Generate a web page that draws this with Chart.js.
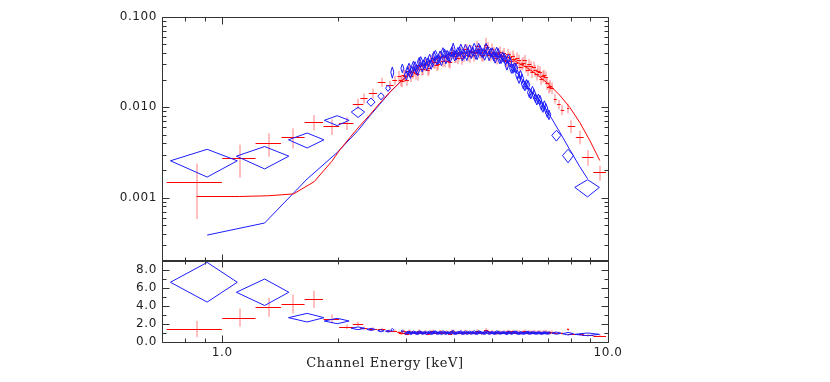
<!DOCTYPE html>
<html>
<head>
<meta charset="utf-8">
<script src="https://cdn.jsdelivr.net/npm/chart.js@4.4.1/dist/chart.umd.min.js"></script>
<style>
  body { margin: 0; background: #fff; }
  #wrap { position: relative; width: 830px; height: 382px; }
  #wrap canvas { position: absolute; left: 0; top: 0; }
</style>
</head>
<body>
<div id="wrap">
  <canvas id="spec" width="830" height="273"></canvas>
  <canvas id="ratio" width="830" height="382"></canvas>
</div>
<script>
// axis ticks
const xTicks = [1, 10];
const xLabels = ['1.0', '10.0'];
const ySpecTicks = [0.001, 0.01, 0.1];
const ySpecLabels = ['0.001', '0.010', '0.100'];
const yRatioTicks = [0, 2, 4, 6, 8];
const yRatioLabels = ['0.0', '2.0', '4.0', '6.0', '8.0'];

// red spectrum: channel energy (keV), half bin width, rate, error, ratio to model
const redE = [0.858, 1.11, 1.32, 1.53, 1.73, 1.92, 2.10, 2.25, 2.33, 2.46, 2.59, 2.72, 2.80,
  2.88, 2.905, 2.93, 2.955, 2.98,
  3.01, 3.04, 3.065, 3.09, 3.12, 3.15, 3.18, 3.21, 3.235,
  3.26, 3.29, 3.32, 3.35, 3.38, 3.41, 3.44, 3.475,
  3.51, 3.54, 3.57, 3.60, 3.63, 3.665, 3.70, 3.735,
  3.77, 3.80, 3.83, 3.865, 3.90, 3.935, 3.97,
  4.005, 4.04, 4.08, 4.12, 4.155, 4.19, 4.23,
  4.27, 4.305, 4.34, 4.38, 4.42, 4.46,
  4.50, 4.54, 4.58, 4.62, 4.66, 4.705,
  4.75, 4.79, 4.83, 4.875, 4.92, 4.965,
  5.01, 5.055, 5.10, 5.145, 5.19, 5.235,
  5.28, 5.33, 5.38, 5.425, 5.47,
  5.52, 5.57, 5.62, 5.67, 5.72,
  5.77, 5.825, 5.88, 5.93, 5.98,
  6.035, 6.09, 6.145, 6.20,
  6.255, 6.31, 6.37, 6.43, 6.485,
  6.54, 6.60, 6.66, 6.72,
  6.78, 6.84, 6.90, 6.965,
  7.03, 7.09, 7.15,
  7.30, 7.46, 7.62, 7.88, 8.04, 8.45, 8.87, 9.52];
const redDE = [0.14, 0.11, 0.10, 0.105, 0.095, 0.09, 0.09, 0.07, 0.05, 0.06, 0.06, 0.06, 0.04,
  0.035, 0.035, 0.035, 0.035, 0.035,
  0.038, 0.038, 0.038, 0.038, 0.038, 0.038, 0.038, 0.038, 0.038,
  0.041, 0.041, 0.041, 0.041, 0.041, 0.041, 0.041, 0.041,
  0.044, 0.044, 0.044, 0.044, 0.044, 0.044, 0.044, 0.044,
  0.047, 0.047, 0.047, 0.047, 0.047, 0.047, 0.047,
  0.050, 0.050, 0.050, 0.050, 0.050, 0.050, 0.050,
  0.053, 0.053, 0.053, 0.053, 0.053, 0.053,
  0.056, 0.056, 0.056, 0.056, 0.056, 0.056,
  0.059, 0.059, 0.059, 0.059, 0.059, 0.059,
  0.062, 0.062, 0.062, 0.062, 0.062, 0.062,
  0.065, 0.065, 0.065, 0.065, 0.065,
  0.068, 0.068, 0.068, 0.068, 0.068,
  0.071, 0.071, 0.071, 0.071, 0.071,
  0.074, 0.074, 0.074, 0.074,
  0.077, 0.077, 0.077, 0.077, 0.077,
  0.080, 0.080, 0.080, 0.080,
  0.083, 0.083, 0.083, 0.083,
  0.086, 0.086, 0.086,
  0.07, 0.08, 0.08, 0.05, 0.18, 0.20, 0.30, 0.36];
const redY = [0.00148, 0.00276, 0.0040, 0.00468, 0.00687, 0.00615, 0.0067, 0.0110, 0.0126, 0.0143, 0.0190, 0.0176, 0.0200,
  0.0221, 0.0200, 0.0197, 0.0230, 0.0222,
  0.0203, 0.0255, 0.0255, 0.0224, 0.0244, 0.0258, 0.0238, 0.0232, 0.0296,
  0.0293, 0.0263, 0.0268, 0.0295, 0.0303, 0.0261, 0.0271, 0.0327,
  0.0351, 0.0316, 0.0314, 0.0296, 0.0303, 0.0363, 0.0362, 0.0329,
  0.0326, 0.0365, 0.0365, 0.0324, 0.0317, 0.0409, 0.0402,
  0.0366, 0.0366, 0.0354, 0.0387, 0.0409, 0.0348, 0.0373,
  0.0438, 0.0437, 0.0380, 0.0366, 0.0424, 0.0414,
  0.0376, 0.0397, 0.0474, 0.0443, 0.0408, 0.0380,
  0.0376, 0.0431, 0.0490, 0.0461, 0.0384, 0.0382,
  0.0444, 0.0405, 0.0371, 0.0351, 0.0397, 0.0411,
  0.0368, 0.0370, 0.0396, 0.0337, 0.0322,
  0.0385, 0.0358, 0.0325, 0.0372, 0.0339,
  0.0306, 0.0353, 0.0332, 0.0282, 0.0301,
  0.0313, 0.0331, 0.0286, 0.0261,
  0.0299, 0.0284, 0.0248, 0.0280, 0.0256,
  0.0233, 0.0254, 0.0248, 0.0208,
  0.0221, 0.0227, 0.0217, 0.0184,
  0.0167, 0.0174, 0.0164,
  0.0125, 0.0108, 0.0094, 0.0098, 0.0062, 0.0047, 0.0028, 0.0019];
const redDY = [0.0009, 0.0011, 0.00116, 0.00117, 0.0013, 0.0012, 0.0011, 0.0015, 0.0016, 0.0018, 0.0022, 0.0020, 0.0022,
  0.0033, 0.0030, 0.0030, 0.0035, 0.0033,
  0.0030, 0.0038, 0.0038, 0.0034, 0.0037, 0.0039, 0.0036, 0.0035, 0.0044,
  0.0044, 0.0039, 0.0040, 0.0044, 0.0045, 0.0039, 0.0041, 0.0049,
  0.0053, 0.0047, 0.0047, 0.0044, 0.0045, 0.0054, 0.0054, 0.0049,
  0.0049, 0.0055, 0.0055, 0.0049, 0.0048, 0.0061, 0.0060,
  0.0055, 0.0055, 0.0053, 0.0058, 0.0061, 0.0052, 0.0056,
  0.0066, 0.0066, 0.0057, 0.0055, 0.0064, 0.0062,
  0.0056, 0.0060, 0.0071, 0.0066, 0.0061, 0.0057,
  0.0056, 0.0065, 0.0095, 0.0069, 0.0058, 0.0057,
  0.0067, 0.0061, 0.0056, 0.0053, 0.0060, 0.0062,
  0.0055, 0.0056, 0.0059, 0.0051, 0.0048,
  0.0058, 0.0054, 0.0049, 0.0056, 0.0051,
  0.0046, 0.0053, 0.0050, 0.0042, 0.0045,
  0.0047, 0.0050, 0.0043, 0.0039,
  0.0045, 0.0043, 0.0037, 0.0042, 0.0038,
  0.0035, 0.0038, 0.0037, 0.0031,
  0.0033, 0.0034, 0.0033, 0.0028,
  0.0025, 0.0026, 0.0025,
  0.0015, 0.0013, 0.0012, 0.0012, 0.0010, 0.0008, 0.00055, 0.00036];
const redRatio = [1.44, 2.70, 3.85, 4.22, 4.74, 2.56, 1.70, 2.00, 1.52, 1.44, 1.40, 1.20, 1.25,
  1.10, 0.95, 0.98, 1.18, 1.05,
  0.92, 1.20, 1.15, 1.00, 1.06, 1.08, 0.97, 0.95, 1.22,
  1.12, 1.01, 1.02, 1.10, 1.09, 0.93, 0.97, 1.15,
  1.18, 1.04, 1.04, 0.98, 0.99, 1.16, 1.12, 1.01,
  1.01, 1.10, 1.08, 0.96, 0.94, 1.20, 1.14,
  1.03, 1.03, 0.97, 1.06, 1.12, 0.96, 1.02,
  1.16, 1.14, 1.00, 0.95, 1.10, 1.06,
  0.98, 1.00, 1.22, 1.12, 1.05, 0.97,
  0.97, 1.11, 1.28, 1.18, 1.00, 0.98,
  1.15, 1.06, 0.99, 0.95, 1.07, 1.12,
  1.02, 1.04, 1.13, 0.98, 0.96,
  1.17, 1.09, 1.00, 1.17, 1.07,
  1.01, 1.14, 1.12, 0.98, 1.05,
  1.10, 1.19, 1.03, 0.98,
  1.14, 1.11, 0.99, 1.15, 1.08,
  1.01, 1.14, 1.13, 1.00,
  1.08, 1.12, 1.16, 1.05,
  1.00, 1.06, 1.09,
  1.05, 1.00, 0.98, 1.40, 0.92, 0.85, 0.78, 0.70];
const redRatioErr = [0.90, 1.00, 1.05, 1.05, 0.95, 0.50, 0.25, 0.25, 0.20, 0.20, 0.18, 0.16, 0.15,
  0.18, 0.17, 0.17, 0.19, 0.18,
  0.17, 0.19, 0.19, 0.17, 0.18, 0.18, 0.17, 0.17, 0.19,
  0.18, 0.17, 0.18, 0.18, 0.18, 0.17, 0.17, 0.19,
  0.19, 0.18, 0.18, 0.17, 0.17, 0.19, 0.19, 0.18,
  0.18, 0.18, 0.18, 0.17, 0.17, 0.19, 0.19,
  0.18, 0.18, 0.17, 0.18, 0.19, 0.17, 0.18,
  0.19, 0.19, 0.18, 0.17, 0.18, 0.18,
  0.17, 0.18, 0.20, 0.19, 0.18, 0.17,
  0.17, 0.19, 0.26, 0.19, 0.18, 0.17,
  0.19, 0.18, 0.18, 0.17, 0.18, 0.19,
  0.18, 0.18, 0.19, 0.17, 0.17,
  0.19, 0.18, 0.18, 0.19, 0.18,
  0.18, 0.19, 0.19, 0.18, 0.18,
  0.19, 0.20, 0.18, 0.18,
  0.19, 0.19, 0.18, 0.19, 0.19,
  0.18, 0.19, 0.19, 0.18,
  0.19, 0.19, 0.20, 0.19,
  0.19, 0.20, 0.20,
  0.15, 0.15, 0.15, 0.15, 0.14, 0.14, 0.15, 0.15];

// blue spectrum
const blueE = [0.914, 1.288, 1.66, 1.986, 2.25, 2.43, 2.58, 2.69, 2.76, 2.93,
  3.00, 3.025, 3.05, 3.075, 3.10, 3.13, 3.16, 3.185, 3.21, 3.24,
  3.27, 3.30, 3.33, 3.36, 3.39, 3.42, 3.45, 3.48,
  3.51, 3.54, 3.57, 3.605, 3.64, 3.67, 3.70, 3.735,
  3.77, 3.80, 3.83, 3.865, 3.90, 3.935, 3.97,
  4.005, 4.04, 4.08, 4.12, 4.155, 4.19, 4.23,
  4.27, 4.305, 4.34, 4.38, 4.42, 4.46,
  4.50, 4.54, 4.58, 4.62, 4.66, 4.705,
  4.75, 4.79, 4.83, 4.875, 4.92, 4.965,
  5.01, 5.055, 5.10, 5.145, 5.19, 5.235,
  5.28, 5.33, 5.38, 5.425, 5.47,
  5.52, 5.57, 5.62, 5.67, 5.72,
  5.77, 5.825, 5.88, 5.93, 5.98,
  6.035, 6.09, 6.145, 6.20,
  6.255, 6.31, 6.37, 6.43, 6.485,
  6.54, 6.60, 6.66, 6.72,
  6.78, 6.84, 6.90, 6.965, 7.03,
  7.35, 7.88, 8.85];
const blueDE = [0.18, 0.20, 0.175, 0.147, 0.09, 0.06, 0.05, 0.04, 0.025, 0.025,
  0.034, 0.034, 0.034, 0.034, 0.034, 0.034, 0.034, 0.034, 0.034, 0.034,
  0.037, 0.037, 0.037, 0.037, 0.037, 0.037, 0.037, 0.037,
  0.040, 0.040, 0.040, 0.040, 0.040, 0.040, 0.040, 0.040,
  0.043, 0.043, 0.043, 0.043, 0.043, 0.043, 0.043,
  0.046, 0.046, 0.046, 0.046, 0.046, 0.046, 0.046,
  0.048, 0.048, 0.048, 0.048, 0.048, 0.048,
  0.051, 0.051, 0.051, 0.051, 0.051, 0.051,
  0.054, 0.054, 0.054, 0.054, 0.054, 0.054,
  0.057, 0.057, 0.057, 0.057, 0.057, 0.057,
  0.059, 0.059, 0.059, 0.059, 0.059,
  0.062, 0.062, 0.062, 0.062, 0.062,
  0.065, 0.065, 0.065, 0.065, 0.065,
  0.068, 0.068, 0.068, 0.068,
  0.070, 0.070, 0.070, 0.070, 0.070,
  0.073, 0.073, 0.073, 0.073,
  0.076, 0.076, 0.076, 0.076, 0.076,
  0.20, 0.26, 0.65];
const blueY = [0.00256, 0.00288, 0.00437, 0.00718, 0.00887, 0.01146, 0.0133, 0.0163, 0.0245, 0.0271,
  0.0228, 0.0255, 0.0275, 0.0237, 0.0252, 0.0289, 0.0286, 0.0267, 0.0255, 0.0319,
  0.0325, 0.0280, 0.0300, 0.0323, 0.0291, 0.0318, 0.0346, 0.0299,
  0.0317, 0.0371, 0.0382, 0.0335, 0.0344, 0.0376, 0.0327, 0.0408,
  0.0395, 0.0344, 0.0381, 0.0369, 0.0357, 0.0417, 0.0439,
  0.0370, 0.0380, 0.0411, 0.0418, 0.0447, 0.0370, 0.0388,
  0.0442, 0.0375, 0.0409, 0.0438, 0.0392, 0.0416,
  0.0457, 0.0388, 0.0384, 0.0456, 0.0434, 0.0404,
  0.0399, 0.0377, 0.0456, 0.0425, 0.0374, 0.0403,
  0.0407, 0.0369, 0.0350, 0.0413, 0.0400, 0.0346,
  0.0347, 0.0366, 0.0355, 0.0332, 0.0293,
  0.0346, 0.0318, 0.0271, 0.0270, 0.0278,
  0.0273, 0.0230, 0.0209, 0.0229, 0.0208,
  0.0181, 0.0173, 0.0181, 0.0178,
  0.0146, 0.0141, 0.0153, 0.0140, 0.0128,
  0.0121, 0.0125, 0.0121, 0.0106,
  0.0100, 0.0105, 0.0098, 0.0087, 0.0083,
  0.0049, 0.00293, 0.0013];
const blueDY = [0.00087, 0.0008, 0.00082, 0.0009, 0.00115, 0.0012, 0.0012, 0.0013, 0.0035, 0.0030,
  0.0027, 0.0031, 0.0033, 0.0028, 0.0030, 0.0035, 0.0034, 0.0032, 0.0031, 0.0038,
  0.0039, 0.0034, 0.0036, 0.0039, 0.0035, 0.0038, 0.0042, 0.0036,
  0.0038, 0.0045, 0.0046, 0.0040, 0.0041, 0.0045, 0.0039, 0.0049,
  0.0047, 0.0041, 0.0046, 0.0044, 0.0043, 0.0050, 0.0075,
  0.0044, 0.0046, 0.0049, 0.0050, 0.0054, 0.0044, 0.0047,
  0.0053, 0.0045, 0.0049, 0.0053, 0.0047, 0.0050,
  0.0055, 0.0047, 0.0046, 0.0055, 0.0052, 0.0048,
  0.0048, 0.0045, 0.0055, 0.0051, 0.0045, 0.0048,
  0.0049, 0.0044, 0.0042, 0.0050, 0.0048, 0.0042,
  0.0042, 0.0044, 0.0043, 0.0040, 0.0035,
  0.0042, 0.0038, 0.0033, 0.0032, 0.0033,
  0.0033, 0.0028, 0.0025, 0.0027, 0.0025,
  0.0022, 0.0021, 0.0022, 0.0021,
  0.0018, 0.0017, 0.0018, 0.0017, 0.0015,
  0.0015, 0.0015, 0.0015, 0.0013,
  0.0012, 0.0013, 0.0012, 0.0010, 0.0010,
  0.00067, 0.0005, 0.00028];
const blueRatio = [6.63, 5.52, 2.70, 2.33, 1.52, 1.40, 1.25, 1.20, 1.35, 1.20,
  0.96, 1.04, 1.08, 0.95, 0.99, 1.09, 1.05, 0.98, 0.93, 1.10,
  1.08, 0.96, 1.00, 1.06, 0.95, 1.03, 1.09, 0.94,
  0.99, 1.11, 1.10, 0.97, 0.98, 1.06, 0.93, 1.12,
  1.05, 0.95, 1.03, 1.00, 0.97, 1.08, 1.13,
  0.94, 0.97, 1.04, 1.05, 1.12, 0.94, 0.98,
  1.10, 0.95, 1.02, 1.08, 0.97, 1.02,
  1.12, 0.96, 0.95, 1.12, 1.07, 1.00,
  1.00, 0.95, 1.14, 1.07, 0.96, 1.03,
  1.05, 0.97, 0.95, 1.12, 1.09, 0.96,
  0.99, 1.05, 1.03, 1.00, 0.93,
  1.08, 1.04, 0.95, 1.02, 1.08,
  1.10, 0.97, 0.94, 1.05, 1.00,
  0.95, 1.00, 1.06, 1.08,
  0.96, 0.99, 1.06, 1.01, 0.97,
  0.98, 1.03, 1.01, 0.95,
  0.98, 1.04, 1.00, 0.97, 1.01,
  0.98, 0.92, 0.85];
const blueRatioErr = [2.20, 1.47, 0.48, 0.30, 0.15, 0.12, 0.12, 0.10, 0.15, 0.12,
  0.11, 0.12, 0.12, 0.11, 0.12, 0.13, 0.12, 0.12, 0.11, 0.13,
  0.12, 0.11, 0.12, 0.12, 0.11, 0.12, 0.13, 0.11,
  0.12, 0.13, 0.13, 0.12, 0.12, 0.12, 0.11, 0.13,
  0.12, 0.11, 0.12, 0.12, 0.12, 0.12, 0.18,
  0.11, 0.12, 0.12, 0.12, 0.13, 0.11, 0.12,
  0.13, 0.11, 0.12, 0.12, 0.12, 0.12,
  0.13, 0.11, 0.11, 0.13, 0.12, 0.12,
  0.12, 0.11, 0.13, 0.12, 0.11, 0.12,
  0.12, 0.11, 0.11, 0.13, 0.12, 0.11,
  0.11, 0.12, 0.12, 0.11, 0.11,
  0.13, 0.12, 0.11, 0.12, 0.12,
  0.12, 0.11, 0.11, 0.12, 0.12,
  0.11, 0.12, 0.12, 0.13,
  0.12, 0.12, 0.12, 0.12, 0.12,
  0.12, 0.12, 0.12, 0.12,
  0.12, 0.12, 0.12, 0.12, 0.13,
  0.12, 0.14, 0.15];

// folded models
const redModelE = [0.858, 1.11, 1.32, 1.53, 1.73, 1.92, 2.02, 2.14, 2.27, 2.41, 2.56, 2.72, 2.89, 3.06, 3.25, 3.45,
  3.66, 3.89, 4.13, 4.38, 4.65, 4.94, 5.24, 5.56, 5.90, 6.27, 6.65, 7.06, 7.50, 7.96, 8.45, 8.97, 9.52];
const redModelY = [0.00103, 0.00103, 0.00105, 0.00110, 0.00150, 0.0025, 0.0034, 0.0046, 0.0062, 0.0082, 0.0111, 0.0147,
  0.0190, 0.0232, 0.0278, 0.0316, 0.0350, 0.0375, 0.0392, 0.0402, 0.0404, 0.0398, 0.0382, 0.0350, 0.0305, 0.0262,
  0.0218, 0.0176, 0.0136, 0.0100, 0.0068, 0.0043, 0.00258];
const blueModelE = [0.914, 1.288, 1.66, 1.986, 2.25, 2.41, 2.56, 2.72, 2.89, 3.06, 3.25, 3.45, 3.66, 3.89, 4.13,
  4.38, 4.65, 4.94, 5.24, 5.56, 5.90, 6.27, 6.65, 7.06, 7.50, 7.96, 8.45, 8.85];
const blueModelY = [0.000385, 0.000524, 0.00161, 0.00316, 0.00555, 0.0080, 0.0108, 0.0147, 0.0190, 0.0239, 0.0286,
  0.0325, 0.0359, 0.0388, 0.0404, 0.0410, 0.0406, 0.0392, 0.0360, 0.0305, 0.0222, 0.0155, 0.0120, 0.0082, 0.0053,
  0.0034, 0.0022, 0.00162];

const RED = '#ff0000';
const BLUE = '#1c1cff';
const INK = '#333333';
const tickFont = { family: 'DejaVu Sans', size: 12 };

function pts(e, de, v, dv) {
  return e.map((x, i) => ({ x: x, y: v[i], dx: de[i], dy: dv[i] }));
}
function line(e, v) {
  return e.map((x, i) => ({ x: x, y: v[i] }));
}

// a little tracking on all text, like the original plot fonts
const spacing = {
  id: 'spacing',
  beforeLayout(chart) { chart.ctx.letterSpacing = '0.6px'; },
  beforeDraw(chart) { chart.ctx.letterSpacing = '0.6px'; }
};

// crosses and diamonds, positioned through the chart scales
const errMarks = {
  id: 'errMarks',
  afterDatasetsDraw(chart) {
    const { ctx, chartArea: a, scales: { x, y } } = chart;
    const yv = v => {
      if (y.type === 'logarithmic' && v <= 0) v = y.min / 10;
      return y.getPixelForValue(v);
    };
    ctx.save();
    ctx.beginPath();
    ctx.rect(a.left, a.top, a.right - a.left, a.bottom - a.top);
    ctx.clip();
    ctx.lineWidth = 1;
    chart.data.datasets.forEach(ds => {
      if (!ds.mark) return;
      ds.data.forEach(p => {
        if (p.y === undefined || p.dx === undefined) return;
        const px = x.getPixelForValue(p.x);
        const py = y.getPixelForValue(p.y);
        const x0 = x.getPixelForValue(p.x - p.dx);
        const x1 = x.getPixelForValue(p.x + p.dx);
        const y0 = yv(p.y - p.dy);
        const y1 = yv(p.y + p.dy);
        if (ds.mark === 'cross') {
          ctx.strokeStyle = RED;
          ctx.beginPath();
          ctx.moveTo(x0, Math.round(py) + 0.5);
          ctx.lineTo(x1, Math.round(py) + 0.5);
          ctx.stroke();
          ctx.strokeStyle = 'rgba(255,40,40,0.6)';
          ctx.beginPath();
          ctx.moveTo(Math.round(px), y0);
          ctx.lineTo(Math.round(px), y1);
          ctx.stroke();
        } else {
          ctx.strokeStyle = BLUE;
          ctx.beginPath();
          ctx.moveTo(x0, py);
          ctx.lineTo(px, y1);
          ctx.lineTo(x1, py);
          ctx.lineTo(px, y0);
          ctx.closePath();
          ctx.stroke();
        }
      });
    });
    ctx.restore();
  }
};

// box and inward ticks on all four sides
const frame = {
  id: 'frame',
  afterDraw(chart) {
    const { ctx, chartArea: a, scales: { x, y } } = chart;
    const L = Math.round(a.left) + 0.5, R = Math.round(a.right) + 0.5;
    const T = Math.round(a.top) + 0.5, B = Math.round(a.bottom) + 0.5;
    ctx.save();
    ctx.strokeStyle = INK;
    ctx.lineWidth = 1;
    ctx.beginPath();
    ctx.rect(L, T, R - L, B - T);
    const logTicks = s => {
      const out = [];
      for (let n = Math.floor(Math.log10(s.min)); n <= Math.ceil(Math.log10(s.max)); n++) {
        for (let k = 1; k <= 9; k++) {
          const v = k * Math.pow(10, n);
          if (v >= s.min * 0.999 && v <= s.max * 1.001) out.push({ v: v, major: k === 1 });
        }
      }
      return out;
    };
    logTicks(x).forEach(t => {
      const p = Math.round(x.getPixelForValue(t.v)) + 0.5;
      const len = t.major ? 7 : 4;
      ctx.moveTo(p, T); ctx.lineTo(p, T + len);
      ctx.moveTo(p, B); ctx.lineTo(p, B - len);
    });
    let yt;
    if (y.type === 'logarithmic') {
      yt = logTicks(y);
    } else {
      yt = [];
      for (let v = 0; v <= y.max; v += 1) yt.push({ v: v, major: v % 2 === 0 });
    }
    yt.forEach(t => {
      const p = Math.round(y.getPixelForValue(t.v)) + 0.5;
      const len = t.major ? 7 : 4;
      ctx.moveTo(L, p); ctx.lineTo(L + len, p);
      ctx.moveTo(R, p); ctx.lineTo(R - len, p);
    });
    ctx.stroke();
    ctx.restore();
  }
};

const xScale = {
  type: 'logarithmic',
  min: 0.698,
  max: 10,
  bounds: 'data',
  grid: { display: false },
  border: { display: false }
};

new Chart(document.getElementById('spec'), {
  type: 'scatter',
  data: {
    datasets: [
      { type: 'line', data: line(redModelE, redModelY), borderColor: RED, borderWidth: 1, pointRadius: 0, fill: false },
      { type: 'line', data: line(blueModelE, blueModelY), borderColor: BLUE, borderWidth: 1, pointRadius: 0, fill: false },
      { data: pts(redE, redDE, redY, redDY), mark: 'cross', pointRadius: 0 },
      { data: pts(blueE, blueDE, blueY, blueDY), mark: 'diamond', pointRadius: 0 }
    ]
  },
  options: {
    responsive: false,
    animation: false,
    layout: { padding: { top: 17, right: 222, bottom: 2, left: 0 } },
    plugins: { legend: { display: false }, tooltip: { enabled: false } },
    scales: {
      x: Object.assign({}, xScale, { display: false }),
      y: {
        type: 'logarithmic',
        min: 0.0002,
        max: 0.1,
        bounds: 'data',
        grid: { display: false, drawTicks: false },
        border: { display: false },
        afterBuildTicks: s => { s.ticks = ySpecTicks.map(v => ({ value: v })); },
        afterFit: s => { s.width = 162; },
        ticks: {
          font: tickFont,
          color: '#222',
          padding: 5,
          autoSkip: false,
          callback: (v, i) => ySpecLabels[i]
        }
      }
    }
  },
  plugins: [spacing, errMarks, frame]
});

new Chart(document.getElementById('ratio'), {
  type: 'scatter',
  data: {
    datasets: [
      { data: pts(redE, redDE, redRatio, redRatioErr), mark: 'cross', pointRadius: 0 },
      { data: pts(blueE, blueDE, blueRatio, blueRatioErr), mark: 'diamond', pointRadius: 0 }
    ]
  },
  options: {
    responsive: false,
    animation: false,
    layout: { padding: { top: 260, right: 222, bottom: 0, left: 0 } },
    plugins: { legend: { display: false }, tooltip: { enabled: false } },
    scales: {
      x: Object.assign({}, xScale, {
        afterBuildTicks: s => { s.ticks = xTicks.map(v => ({ value: v })); },
        afterFit: s => { s.height = 40; },
        grid: { display: false, drawTicks: false },
        ticks: {
          font: tickFont,
          color: '#222',
          padding: 4,
          maxRotation: 0,
          autoSkip: false,
          callback: (v, i) => xLabels[i]
        },
        title: {
          display: true,
          text: 'Channel Energy [keV]',
          font: { family: 'DejaVu Serif', size: 13 },
          color: '#222',
          padding: { top: 0, bottom: 11 }
        }
      }),
      y: {
        type: 'linear',
        min: 0,
        max: 9.1,
        bounds: 'data',
        grid: { display: false, drawTicks: false },
        border: { display: false },
        afterBuildTicks: s => { s.ticks = yRatioTicks.map(v => ({ value: v })); },
        afterFit: s => { s.width = 162; },
        ticks: {
          font: tickFont,
          color: '#222',
          padding: 5,
          autoSkip: false,
          callback: (v, i) => yRatioLabels[i]
        }
      }
    }
  },
  plugins: [spacing, errMarks, frame]
});
</script>
</body>
</html>
